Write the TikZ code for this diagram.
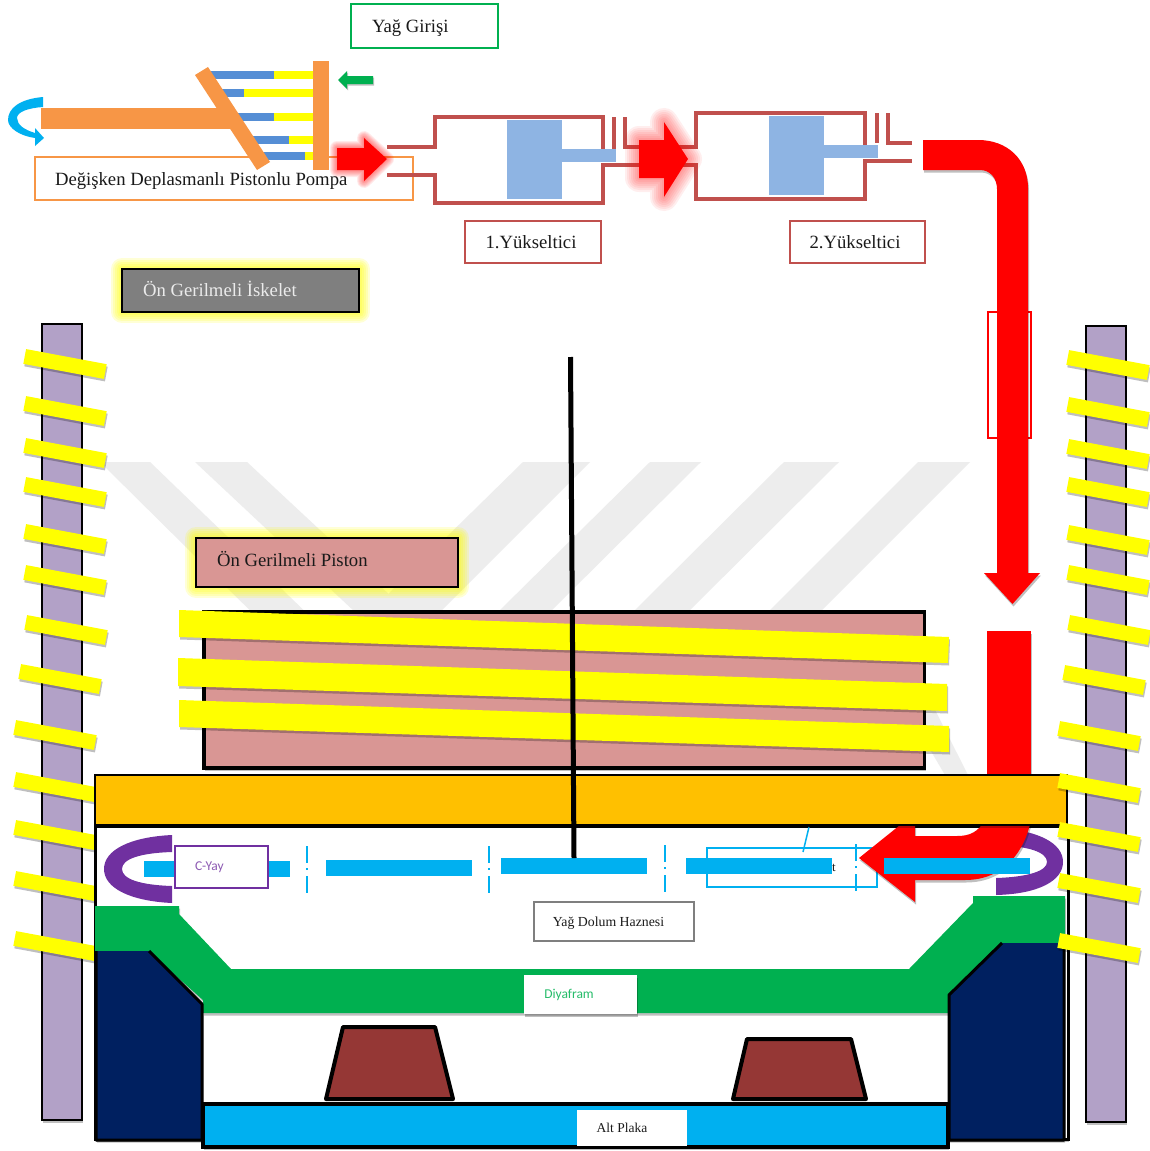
\documentclass[tikz,border=0pt]{standalone}
\usepackage{fontspec}
\setmainfont{Liberation Serif}
\newfontfamily\calib{Carlito}
\usetikzlibrary{shadows}
\definecolor{cOrange}{HTML}{F79646}
\definecolor{cRedLine}{HTML}{C0504D}
\definecolor{cCyan}{HTML}{00B0F0}
\definecolor{cGreen}{HTML}{00B050}
\definecolor{cRodBlue}{HTML}{558ED5}
\definecolor{cPiston}{HTML}{8EB4E3}
\definecolor{cPink}{HTML}{D99694}
\definecolor{cGold}{HTML}{FFC000}
\definecolor{cNavy}{HTML}{002060}
\definecolor{cBrown}{HTML}{953735}
\definecolor{cPurple}{HTML}{7030A0}
\definecolor{cLilac}{HTML}{B2A1C7}
\definecolor{cMark}{HTML}{EDEDED}
\definecolor{cTxt}{HTML}{1A1A1A}
\definecolor{cYel}{HTML}{FFFF00}
\definecolor{cRed}{HTML}{FF0000}
\definecolor{cGrey}{HTML}{7F7F7F}
\newcommand{\bl}[2]{\raisebox{0pt}[\dimexpr #1pt*2\relax][0pt]{#2}}
\tikzset{
  x=1pt,y=-1pt,
  sh/.style={drop shadow={opacity=.25,shadow xshift=1pt,shadow yshift=-2.5pt,fill=black}},
  wmark/.style={fill=cMark,draw=none},
  ampline/.style={draw=cRedLine,line width=4.5pt,line cap=butt,line join=miter},
  lbl/.style={draw,line width=2pt,fill=white,inner sep=0pt,outer sep=0pt,align=flush left,text=cTxt,font=\fontsize{18.7}{20}\selectfont},
  ybarsty/.style={fill=cYel,draw=none,sh},
  cbar/.style={fill=cCyan,draw=none},
  dd/.style={draw=cCyan,line width=2pt,dash pattern=on 17pt off 5pt on 2pt off 6pt on 17pt},
  trapz/.style={fill=cBrown,draw=black,line width=4pt,line join=round},
  navyfill/.style={fill=cNavy,draw=none,sh},
  navyedge/.style={draw=black,line width=3pt,line join=round},
  column/.style={fill=cLilac,draw=black,line width=2pt,sh},
  redf/.style={fill=cRed,draw=none},
}
\newcommand{\arrowA}{(337,148) -- (364,148) -- (364,138) -- (387,159) -- (364,181) -- (364,170) -- (337,170) -- cycle}
\newcommand{\arrowB}{(639,140) -- (664,140) -- (664,122) -- (688,159) -- (664,197) -- (664,178) -- (639,178) -- cycle}
\begin{document}
\begin{tikzpicture}
\useasboundingbox (0,0) rectangle (1150,1151);
\fill[white] (0,0) rectangle (1150,1151);
% watermark
\path[wmark] (100,462) -- (150,462) -- (345,650) -- (290,650) -- cycle;
\path[wmark] (195,462) -- (247,462) -- (408,612) -- (355,612) -- cycle;
\path[wmark] (523,462) -- (590,462) -- (440,612) -- (370,612) -- cycle;
\path[wmark] (650,462) -- (701,462) -- (550,612) -- (498,612) -- cycle;
\path[wmark] (784,462) -- (839,462) -- (688,612) -- (633,612) -- cycle;
\path[wmark] (918,462) -- (970,462) -- (820,612) -- (768,612) -- cycle;
\path[wmark] (895,690) -- (925,690) -- (968,775) -- (945,775) -- cycle;
% pump
\node[lbl,draw=cGreen,anchor=north west,minimum width=147pt,minimum height=44pt,inner xsep=21pt,text width=105pt] (oilbox) at (351,4) {\bl{6}{Yağ Girişi}};
\node[lbl,draw=cOrange,anchor=north west,minimum width=378pt,minimum height=43pt,inner xsep=20pt,text width=338pt] (pumpbox) at (35,157) {\bl{6.5}{Değişken Deplasmanlı Pistonlu Pompa}};
\fill[cRodBlue] (205,71) rectangle (274,79);
\fill[cYel] (274,71) rectangle (313,79);
\fill[cRodBlue] (215,89) rectangle (244,97);
\fill[cYel] (244,89) rectangle (313,97);
\fill[cRodBlue] (230,113) rectangle (274,121);
\fill[cYel] (274,113) rectangle (313,121);
\fill[cRodBlue] (245,136) rectangle (289,144);
\fill[cYel] (289,136) rectangle (313,144);
\fill[cRodBlue] (255,152) rectangle (305,160);
\fill[cYel] (305,152) rectangle (313,160);
\fill[cOrange] (41,108) rectangle (234,129);
\fill[cOrange] (195,75) -- (208,67) -- (270,162) -- (257,170) -- cycle;
\fill[cOrange] (313,61) rectangle (329,170);
\fill[cCyan] (43,97) .. controls (20,99) and (8,108) .. (8,120) .. controls (8,128) and (20,136) .. (35,138) -- (35,146) -- (44,138) -- (35,128) -- (35,133) .. controls (25,130) and (17,125) .. (17,118) .. controls (17,112) and (28,108) .. (43,107) -- cycle;
\fill[black,opacity=.25] (339,81.5) -- (348,72.5) -- (348,77.5) -- (374,77.5) -- (374,85.5) -- (348,85.5) -- (348,90.5) -- cycle;
\fill[cGreen] (338,80) -- (347,71) -- (347,76) -- (373,76) -- (373,84) -- (347,84) -- (347,89) -- cycle;
% amplifiers
\draw[ampline] (387,147) -- (435,147) -- (435,117) -- (603,117) -- (603,152);
\draw[ampline] (387,175) -- (435,175) -- (435,203) -- (603,203) -- (603,165) -- (696,165) -- (696,199) -- (865,199) -- (865,161) -- (912,161);
\draw[ampline] (614,117) -- (614,152);
\draw[ampline] (625,117) -- (625,147) -- (696,147) -- (696,113) -- (865,113) -- (865,146);
\draw[ampline] (877,113) -- (877,143);
\draw[ampline] (888,113) -- (888,143) -- (912,143);
\fill[cPiston] (507,120) rectangle (562,199);
\fill[cPiston] (562,149) rectangle (616,162);
\fill[cPiston] (769,116) rectangle (824,195);
\fill[cPiston] (824,145) rectangle (878,158);
\node[lbl,draw=cRedLine,anchor=north west,minimum width=136pt,minimum height=42pt,align=flush center] (amp1) at (465,221) {\bl{6.7}{\hspace*{-4pt}1.Yükseltici}};
\node[lbl,draw=cRedLine,anchor=north west,minimum width=135pt,minimum height=42pt,align=flush center] (amp2) at (790,221) {\bl{6.7}{\hspace*{-5pt}2.Yükseltici}};
% glowing arrows
\foreach \w in {28,24,20,16,12,8,4}{
  \draw[cRed,opacity=.065,line width=\w pt,line join=round] \arrowB;
  \draw[cRed,opacity=.08,line width=.5*\w pt,line join=round] \arrowA;
}
\path[redf] \arrowA;
\path[redf] \arrowB;
% main oil arrow
\draw[cRed,line width=1.5pt] (988,312) rectangle (1031,438);
\path[redf,sh] (923,140) -- (978,140) .. controls (1008,140) and (1028,160) .. (1028,188) -- (1028,573) -- (1040,573) -- (1012.5,604) -- (984,573) -- (997,573) -- (997,189) .. controls (997,178) and (990,170) .. (980,170) -- (923,170) -- cycle;
% labels with glow
\foreach \w in {22,18,14,10,6}{
  \draw[cYel,opacity=.16,line width=\w pt,line join=round] (122,269) rectangle (359,312);
  \draw[cYel,opacity=.16,line width=\w pt,line join=round] (196,538) rectangle (458,587);
}
\node[lbl,draw=black,fill=cGrey,text=white!92!black,anchor=north west,minimum width=237pt,minimum height=43pt,inner xsep=21pt,text width=195pt] (frame) at (122,269) {\bl{6.2}{Ön Gerilmeli İskelet}};
\node[lbl,draw=black,fill=cPink,anchor=north west,minimum width=262pt,minimum height=49pt,inner xsep=21pt,text width=220pt] (preston) at (196,538) {\bl{3.5}{Ön Gerilmeli Piston}};
% columns
\path[column] (42,324) rectangle (82,1120);
\path[column] (1086,326) rectangle (1126,1122);
\foreach \cx/\cy in {65/364,65/411,65/453,65/492,65/539,65/580,66/630,60/679,55/735,55/787,55/835,55/886,55/946}{
  \path[ybarsty,rotate around={-10.6:(\cx,\cy)}] (\cx-41,\cy-7.5) rectangle (\cx+41,\cy+7.5);
}
% piston with tendons
\path[fill=cPink,draw=black,line width=3.5pt,sh] (204,612) rectangle (924.5,768);
\path[ybarsty] (179,610) -- (949,637) -- (948,663) -- (179,637) -- cycle;
\path[ybarsty] (178,658) -- (947,684) -- (947,711) -- (178,686) -- cycle;
\path[ybarsty] (179,700) -- (949,726) -- (949,752) -- (179,727) -- cycle;
% body
\path[fill=white,draw=black,line width=3pt,sh] (95,826) rectangle (1068,1139);
\path[redf,sh] (987,631) rectangle (1031,790);
% cyan callout
\node[draw=cCyan,line width=1.5pt,fill=white,anchor=north west,minimum width=170pt,minimum height=39pt,inner sep=0pt,outer sep=0pt] (call) at (707,848) {};
\node[text=cTxt,font=\fontsize{13}{15}\selectfont,inner sep=0pt] (callt) at (834,868) {t};
\draw[cCyan,line width=1.5pt] (803,852) -- (809,827);
% C rings
\fill[cPurple] (172,835) .. controls (130,837) and (104,850) .. (104,869) .. controls (104,888) and (130,901) .. (172,903) -- (172,886) .. controls (140,885) and (122,879) .. (122,869) .. controls (122,859) and (140,853) .. (172,852) -- cycle;
\fill[cPurple] (996,828) .. controls (1038,830) and (1063,843) .. (1063,862) .. controls (1063,881) and (1038,894) .. (996,895) -- (996,878) .. controls (1028,877) and (1047,871) .. (1047,862) .. controls (1047,852) and (1028,846) .. (996,845) -- cycle;
% bent red arrow
\path[redf,sh] (859,858) -- (915,813) -- (915,836) -- (957,836) .. controls (970,836) and (978,832) .. (985,820) -- (1031,820) .. controls (1025,850) and (1005,880) .. (965,880) -- (915,880) -- (915,902) -- cycle;
% plate
\path[fill=cGold,draw=black,line width=2.5pt,sh] (95,775) rectangle (1067,825);
% spring bars
\path[cbar] (144,861) rectangle (290,877);
\path[cbar] (326,860) rectangle (472,876);
\path[cbar] (501,858) rectangle (647,874);
\path[cbar] (686,858) rectangle (832,874);
\path[cbar] (884,858) rectangle (1030,874);
\draw[dd] (307,846) -- (307,893);
\draw[dd] (489,846) -- (489,893);
\draw[dd] (665,845) -- (665,892);
\draw[dd] (856,844) -- (856,891);
\node[lbl,draw=cPurple,text=cPurple!80!white,anchor=north west,minimum width=93pt,minimum height=42pt,inner xsep=20pt,text width=53pt,font=\calib\fontsize{13.5}{15}\selectfont] (cyay) at (175,846) {\bl{3.7}{C-Yay}};
\node[lbl,draw=cGrey,minimum width=160pt,minimum height=39pt,align=flush center,font=\fontsize{13.8}{15}\selectfont] (fill) at (614,921.5) {\bl{5}{\hspace*{-11pt}Yağ Dolum Haznesi}};
% diaphragm
\path[fill=cGreen,sh] (95,906) -- (179,906) -- (179,914) -- (231,969) -- (909,969) -- (973,903) -- (973,896) -- (1065,896) -- (1065,945) -- (1002,945) -- (948,1000) -- (948,1013) -- (203,1013) -- (203,1000) -- (149,952) -- (95,952) -- cycle;
\node[fill=white,text=cGreen!85!white,inner sep=0pt,outer sep=0pt,anchor=north west,minimum width=113pt,minimum height=39pt,font=\calib\fontsize{13.5}{15}\selectfont,sh] (diya) at (524,975) {\bl{4.2}{\hspace*{-23pt}Diyafram}};
% side blocks
\path[navyfill] (96,951) -- (149,951) -- (202,1004) -- (202,1140) -- (96,1140) -- cycle;
\draw[navyedge] (149,951) -- (202,1004) -- (202,1140) -- (96,1140) -- (96,951);
\path[navyfill] (1002,943) -- (1064,943) -- (1064,1140) -- (949,1140) -- (949,995) -- cycle;
\draw[navyedge] (1002,943) -- (949,995) -- (949,1140) -- (1064,1140) -- (1064,943);
% base plate
\path[fill=cCyan,draw=black,line width=4pt,sh] (203,1104) rectangle (948,1147);
\node[fill=white,inner sep=0pt,outer sep=0pt,anchor=north west,minimum width=110pt,minimum height=36pt,text=cTxt,font=\fontsize{13.5}{15}\selectfont] (alt) at (577,1110) {\bl{4.7}{\hspace*{-20pt}Alt Plaka}};
% stoppers
\path[trapz] (343,1027) -- (435,1027) -- (453,1099) -- (326,1099) -- cycle;
\path[trapz] (747,1039) -- (851,1039) -- (866,1099) -- (733,1099) -- cycle;
% right anchors
\foreach \cx/\cy in {1108/365,1108/412,1108/454,1108/492,1108/540,1108/580,1109/630,1104/680,1099/736,1099/788,1099/837,1099/888,1099/948}{
  \path[ybarsty,rotate around={-10.6:(\cx,\cy)}] (\cx-41,\cy-7.5) rectangle (\cx+41,\cy+7.5);
}
% centre rod
\draw[black,line width=5pt] (570.5,357) -- (574,858);
\end{tikzpicture}
\end{document}
